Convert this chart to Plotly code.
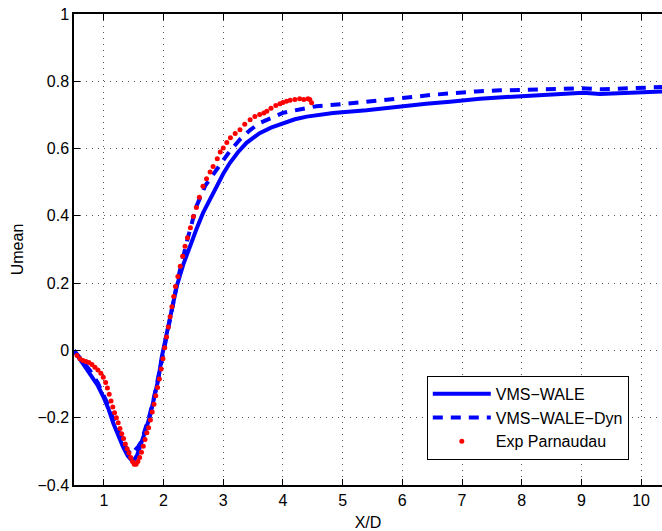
import plotly.graph_objects as go

# VMS-WALE (solid)
wale_x = [0.5, 0.6, 0.77, 0.9, 0.99, 1.08, 1.16, 1.24, 1.32, 1.4, 1.49, 1.56, 1.63, 1.70, 1.77, 1.84,
          1.91, 1.97, 2.02, 2.1, 2.22, 2.33, 2.44, 2.55, 2.66, 2.78, 2.89, 3.0, 3.11, 3.25, 3.39, 3.5,
          3.61, 3.8, 4.0, 4.2, 4.4, 4.84, 5.4, 5.96, 6.4, 6.8, 7.3, 7.92, 8.5, 9.03, 9.31, 9.6, 10.0, 10.35]
wale_y = [0.0, -0.025, -0.068, -0.105, -0.137, -0.175, -0.217, -0.252, -0.286, -0.313, -0.331, -0.31,
          -0.276, -0.237, -0.197, -0.143, -0.088, -0.02, 0.02, 0.09, 0.19, 0.255, 0.309, 0.36, 0.408,
          0.45, 0.488, 0.525, 0.557, 0.59, 0.617, 0.632, 0.646, 0.662, 0.676, 0.687, 0.695, 0.706,
          0.714, 0.726, 0.733, 0.739, 0.748, 0.755, 0.762, 0.766, 0.762, 0.764, 0.767, 0.77]

# VMS-WALE-Dyn (dashed)
dyn_x = [0.5, 0.6, 0.77, 0.9, 0.99, 1.08, 1.16, 1.24, 1.32, 1.4, 1.47, 1.53, 1.58, 1.63, 1.70, 1.77,
         1.84, 1.91, 1.97, 2.05, 2.15, 2.25, 2.4, 2.55, 2.7, 2.89, 3.1, 3.28, 3.45, 3.61, 3.8, 4.0,
         4.3, 4.56, 5.0, 5.57, 6.0, 6.52, 6.97, 7.24, 7.64, 8.2, 8.7, 9.0, 9.36, 9.7, 10.35]
dyn_y = [0.0, -0.022, -0.06, -0.097, -0.128, -0.165, -0.205, -0.24, -0.272, -0.298, -0.31, -0.295,
         -0.285, -0.27, -0.232, -0.19, -0.14, -0.085, -0.03, 0.04, 0.13, 0.22, 0.33, 0.428, 0.49,
         0.537, 0.59, 0.627, 0.655, 0.676, 0.692, 0.706, 0.717, 0.726, 0.732, 0.741, 0.75, 0.76,
         0.767, 0.77, 0.773, 0.776, 0.779, 0.779, 0.776, 0.779, 0.783]

# Exp Parnaudau (points)
exp_x = [0.55, 0.6, 0.65, 0.7, 0.75, 0.8, 0.85, 0.9, 0.95, 0.99, 1.03, 1.06, 1.09, 1.12, 1.15, 1.18,
         1.21, 1.24, 1.27, 1.3, 1.33, 1.36, 1.39, 1.42, 1.45, 1.48, 1.51, 1.54, 1.57, 1.6, 1.63, 1.66,
         1.69, 1.72, 1.75, 1.78, 1.81, 1.84, 1.87, 1.9, 1.93, 1.96, 1.99, 2.02, 2.05, 2.08, 2.11,
         2.14, 2.17, 2.2, 2.24, 2.28, 2.32, 2.36, 2.4, 2.45, 2.5, 2.55, 2.6, 2.66, 2.72, 2.78, 2.83,
         2.9, 2.95, 3.0, 3.06, 3.12, 3.2, 3.28, 3.36, 3.45, 3.53, 3.61, 3.68, 3.73, 3.8, 3.88, 3.95,
         4.0, 4.06, 4.12, 4.2, 4.28, 4.35, 4.42, 4.45, 4.48]
exp_y = [-0.015, -0.025, -0.03, -0.033, -0.036, -0.042, -0.05, -0.058, -0.068, -0.08, -0.095, -0.112,
         -0.13, -0.15, -0.168, -0.185, -0.2, -0.215, -0.232, -0.248, -0.262, -0.278, -0.292, -0.305,
         -0.318, -0.33, -0.338, -0.338, -0.33, -0.318, -0.303, -0.285, -0.265, -0.245, -0.23, -0.207,
         -0.183, -0.16, -0.135, -0.11, -0.085, -0.055, -0.025, 0.008, 0.04, 0.07, 0.1, 0.13, 0.16,
         0.19, 0.22, 0.25, 0.28, 0.31, 0.335, 0.365, 0.398, 0.425, 0.455, 0.488, 0.51, 0.53, 0.547,
         0.57, 0.59, 0.602, 0.618, 0.632, 0.645, 0.656, 0.672, 0.686, 0.695, 0.701, 0.706, 0.711,
         0.72, 0.728, 0.733, 0.737, 0.741, 0.744, 0.746, 0.748, 0.746, 0.748, 0.746, 0.736]

x_ticks = [1, 2, 3, 4, 5, 6, 7, 8, 9, 10]
y_ticks = [-0.4, -0.2, 0, 0.2, 0.4, 0.6, 0.8, 1]

fig = go.Figure()
fig.add_trace(go.Scatter(x=wale_x, y=wale_y, mode="lines", name="VMS\u2212WALE",
                         line=dict(color="#0000ff", width=4), legendgroup="a"))
fig.add_trace(go.Scatter(x=dyn_x, y=dyn_y, mode="lines", name="VMS\u2212WALE\u2212Dyn",
                         line=dict(color="#0000ff", width=4, dash="10px,8px"), legendgroup="b"))
fig.add_trace(go.Scatter(x=exp_x, y=exp_y, mode="markers", name="Exp Parnaudau",
                         marker=dict(color="#ff0000", size=5), legendgroup="c"))

grid = dict(showgrid=True, gridcolor="#555555", gridwidth=1, griddash="1px,5px")
fig.update_xaxes(range=[0.5, 10.35], tickvals=x_ticks, ticks="inside", ticklen=6,
                 tickcolor="black", showline=True, linecolor="black", linewidth=1.5,
                 mirror="ticks", zeroline=False, tickfont=dict(size=16),
                 title=dict(text="X/D", standoff=9, font=dict(size=16)), **grid)
fig.update_yaxes(range=[-0.4, 1], tickvals=y_ticks, ticks="inside", ticklen=6,
                 tickcolor="black", showline=True, linecolor="black", linewidth=1.5,
                 mirror=False, zeroline=False, tickfont=dict(size=16),
                 title=dict(text="Umean", standoff=10, font=dict(size=16)), **grid)
fig.update_layout(
    width=662, height=531,
    margin=dict(l=74, r=0, t=14, b=46),
    plot_bgcolor="white", paper_bgcolor="white",
    font=dict(family="Liberation Sans, Arial, sans-serif", size=16, color="black"),
    legend=dict(x=0.6, y=0.232, xanchor="left", yanchor="top",
                bordercolor="black", borderwidth=1, bgcolor="white",
                tracegroupgap=0, itemwidth=58,
                font=dict(size=16)),
    showlegend=True,
)
fig.write_html("out.html", config={"displayModeBar": False},
               post_script="document.body.style.margin='0';document.body.style.overflow='hidden';")
